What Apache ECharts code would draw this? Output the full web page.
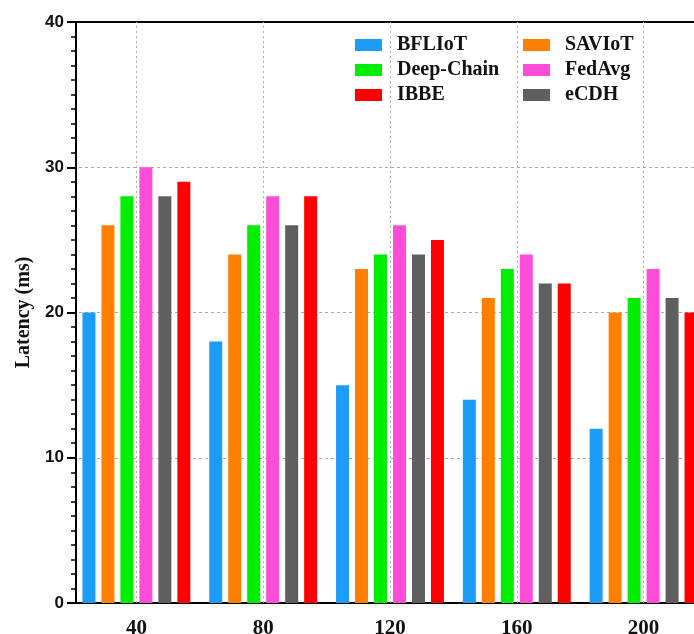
<!DOCTYPE html>
<html>
<head>
<meta charset="utf-8">
<script src="https://cdn.jsdelivr.net/npm/echarts@6/dist/echarts.min.js"></script>
<style>html,body{margin:0;padding:0;background:#fff;}#c{width:694px;height:634px;}</style>
</head>
<body>
<div id="c"></div>
<script>
const categories = ['40', '80', '120', '160', '200'];
const BFLIoT = [20, 18, 15, 14, 12];
const SAVIoT = [26, 24, 23, 21, 20];
const DeepChain = [28, 26, 24, 23, 21];
const FedAvg = [30, 28, 26, 24, 23];
const eCDH = [28, 26, 24, 22, 21];
const IBBE = [29, 28, 25, 22, 20];
const yTicks = [0, 10, 20, 30, 40];

const names = ['BFLIoT', 'SAVIoT', 'Deep-Chain', 'FedAvg', 'eCDH', 'IBBE'];
const values = [BFLIoT, SAVIoT, DeepChain, FedAvg, eCDH, IBBE];
const colors = ['#1C9CF6', '#FF8000', '#00EE00', '#FF4DD8', '#5F5F5F', '#FF0000'];

const serif = '"Liberation Serif", "DejaVu Serif", serif';
const sans = '"Liberation Sans", Arial, sans-serif';

const series = names.map((n, i) => ({
  name: n,
  type: 'bar',
  data: values[i],
  barWidth: 13,
  barGap: '46%',
  itemStyle: { color: colors[i] },
  z: 3
}));
series.push({
  name: 'grid-x',
  type: 'line',
  data: [],
  silent: true,
  z: 1,
  markLine: {
    silent: true,
    symbol: 'none',
    label: { show: false },
    lineStyle: { type: [2, 3], color: '#aaaaaa', width: 1 },
    data: categories.map(c => ({ xAxis: c }))
  }
});

const legendCommon = {
  orient: 'vertical',
  top: 30,
  itemWidth: 27,
  itemHeight: 12,
  itemGap: 5,
  icon: 'rect',
  textStyle: { fontFamily: serif, fontWeight: 'bold', fontSize: 20, color: '#111', padding: [0, 0, 0, 10], lineHeight: 18 }
};

const chart = echarts.init(document.getElementById('c'));
chart.setOption({
  animation: false,
  backgroundColor: '#fff',
  grid: { left: 73, top: 22, bottom: 31, width: 634, outerBoundsMode: 'none', containLabel: false },
  legend: [
    Object.assign({}, legendCommon, { left: 350, data: ['BFLIoT', 'Deep-Chain', 'IBBE'] }),
    Object.assign({}, legendCommon, { left: 518, data: ['SAVIoT', 'FedAvg', 'eCDH'] })
  ],
  xAxis: [
    {
      type: 'category',
      data: categories,
      position: 'bottom',
      axisLine: { lineStyle: { color: '#000', width: 2 } },
      axisTick: { alignWithLabel: true, length: 6, lineStyle: { width: 2, color: '#000' } },
      axisLabel: { fontFamily: serif, fontWeight: 'bold', fontSize: 21, color: '#111', margin: 15 },
      splitLine: { show: false }
    },
    {
      type: 'category',
      data: categories,
      position: 'top',
      axisLine: { lineStyle: { color: '#000', width: 2 } },
      axisTick: { alignWithLabel: true, inside: true, length: 6, lineStyle: { width: 2, color: '#000' } },
      axisLabel: { show: false },
      splitLine: { show: false }
    }
  ],
  yAxis: {
    type: 'value',
    min: yTicks[0],
    max: yTicks[yTicks.length - 1],
    interval: 10,
    offset: -3,
    name: 'Latency (ms)',
    nameLocation: 'middle',
    nameGap: 36,
    nameTextStyle: { fontFamily: serif, fontWeight: 'bold', fontSize: 20, color: '#111' },
    axisLine: { show: true, lineStyle: { color: '#000', width: 2 } },
    axisTick: { show: true, length: 9, lineStyle: { width: 2, color: '#000' } },
    minorTick: { show: true, splitNumber: 10, length: 5, lineStyle: { width: 1.5, color: '#000' } },
    axisLabel: { fontFamily: sans, fontWeight: 'bold', fontSize: 17, color: '#111', margin: 12 },
    splitLine: { show: true, lineStyle: { type: [3, 3], color: '#aaaaaa', width: 1 } }
  },
  series: series
});
</script>
</body>
</html>
